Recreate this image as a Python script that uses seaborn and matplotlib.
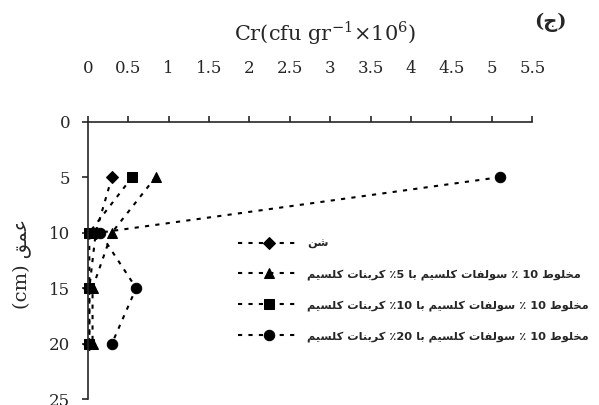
import re
import matplotlib
matplotlib.use("Agg")
import matplotlib.pyplot as plt
import seaborn as sns
import pandas as pd

# =====================================================
# DATA
# =====================================================

depth = [5, 10, 15, 20]

sand = [0.3, 0.1, 0.02, 0.02]
mix5 = [0.84, 0.3, 0.06, 0.06]
mix10 = [0.55, 0.02, 0.02, 0.02]
mix20 = [5.1, 0.15, 0.6, 0.3]

labels = [
    "شن",
    "مخلوط 10 ٪ سولفات کلسیم با 5٪ کربنات کلسیم",
    "مخلوط 10 ٪ سولفات کلسیم با 10٪ کربنات کلسیم",
    "مخلوط 10 ٪ سولفات کلسیم با 20٪ کربنات کلسیم",
]
markers = ["D", "^", "s", "o"]

x_ticks = [0, 0.5, 1, 1.5, 2, 2.5, 3, 3.5, 4, 4.5, 5, 5.5]
y_ticks = [0, 5, 10, 15, 20, 25]

# =====================================================
# PERSIAN SHAPING (matplotlib has no bidi / shaping)
# =====================================================

FORMS = {
    "ا": ("\uFE8D", "\uFE8E"),
    "و": ("\uFEED", "\uFEEE"),
    "ر": ("\uFEAD", "\uFEAE"),
    "ب": ("\uFE8F", "\uFE90", "\uFE91", "\uFE92"),
    "ت": ("\uFE95", "\uFE96", "\uFE97", "\uFE98"),
    "ج": ("\uFE9D", "\uFE9E", "\uFE9F", "\uFEA0"),
    "خ": ("\uFEA5", "\uFEA6", "\uFEA7", "\uFEA8"),
    "س": ("\uFEB1", "\uFEB2", "\uFEB3", "\uFEB4"),
    "ش": ("\uFEB5", "\uFEB6", "\uFEB7", "\uFEB8"),
    "ط": ("\uFEC1", "\uFEC2", "\uFEC3", "\uFEC4"),
    "ع": ("\uFEC9", "\uFECA", "\uFECB", "\uFECC"),
    "ف": ("\uFED1", "\uFED2", "\uFED3", "\uFED4"),
    "ق": ("\uFED5", "\uFED6", "\uFED7", "\uFED8"),
    "ل": ("\uFEDD", "\uFEDE", "\uFEDF", "\uFEE0"),
    "م": ("\uFEE1", "\uFEE2", "\uFEE3", "\uFEE4"),
    "ن": ("\uFEE5", "\uFEE6", "\uFEE7", "\uFEE8"),
    "ک": ("\uFB8E", "\uFB8F", "\uFB90", "\uFB91"),
    "ی": ("\uFBFC", "\uFBFD", "\uFBFE", "\uFBFF"),
}


def shape(text):
    out = []
    for i, c in enumerate(text):
        if c not in FORMS:
            out.append(c)
            continue
        prev = text[i - 1] if i > 0 else ""
        nxt = text[i + 1] if i + 1 < len(text) else ""
        f = FORMS[c]
        jp = prev in FORMS and len(FORMS[prev]) == 4
        jn = len(f) == 4 and nxt in FORMS
        if jp and jn:
            out.append(f[3])
        elif jp:
            out.append(f[1])
        elif jn:
            out.append(f[2])
        else:
            out.append(f[0])
    return "".join(out)


def rtl(text):
    tokens = re.findall(r"[0-9A-Za-z().]+|[^0-9A-Za-z().]+", shape(text))
    tokens = [t if re.match(r"[0-9A-Za-z().]", t) else t[::-1] for t in tokens]
    return "".join(tokens[::-1])


# =====================================================
# PLOT
# =====================================================

sns.set_style("ticks")
plt.rcParams["font.family"] = ["DejaVu Serif", "DejaVu Sans"]
plt.rcParams["mathtext.fontset"] = "custom"
plt.rcParams["mathtext.rm"] = "DejaVu Serif"

fig = plt.figure(figsize=(5.99, 4.05), dpi=100)
ax = fig.add_axes([0.1464, 0.0148, 0.7422, 0.6847])

series = [sand, mix5, mix10, mix20]
for vals, lab, mk in zip(series, labels, markers):
    df = pd.DataFrame({"x": vals, "y": depth})
    sns.lineplot(
        data=df, x="x", y="y", orient="y", sort=False, estimator=None,
        ax=ax, color="black", marker=mk,
        markersize=7.5 if mk != "D" else 6,
        markeredgecolor="black", linewidth=1.5,
        linestyle=(0, (2, 3)), label=rtl(lab), clip_on=False,
    )

ax.set_xlim(0, 5.5)
ax.set_ylim(25, 0)
ax.set_xticks(x_ticks)
ax.set_xticklabels([f"{v:g}" for v in x_ticks])
ax.set_yticks(y_ticks)
ax.xaxis.tick_top()
ax.tick_params(axis="x", direction="out", length=4.5, width=1.2,
               pad=28, labelsize=12)
ax.tick_params(axis="y", direction="out", length=4.5, width=1.2,
               pad=8, labelsize=12)
ax.spines["right"].set_visible(False)
ax.spines["bottom"].set_visible(False)
ax.spines["top"].set_linewidth(1.2)
ax.spines["left"].set_linewidth(1.2)
ax.set_xlabel("")
ax.set_ylabel("")

fig.text(325 / 599, 1 - 33 / 405,
         r"Cr(cfu gr$^{\mathregular{-1}}$×10$^{\mathregular{6}}$)",
         ha="center", va="center", fontsize=15)
fig.text(550 / 599, 1 - 22 / 405, "(" + shape("ج") + ")",
         ha="center", va="center", fontsize=14, fontweight="bold")
fig.text(22 / 599, 1 - 264 / 405, rtl("عمق (cm)"),
         ha="center", va="center", rotation=90, fontsize=14)

leg = ax.legend(
    loc="upper left", bbox_to_anchor=(232 / 599, 1 - 233 / 405),
    bbox_transform=fig.transFigure, frameon=False, borderpad=0,
    handlelength=5.5, handletextpad=0.6, labelspacing=1.76,
    prop={"family": ["DejaVu Sans"], "size": 8.2, "weight": "bold"},
)

fig.savefig("out.png", dpi=100)
